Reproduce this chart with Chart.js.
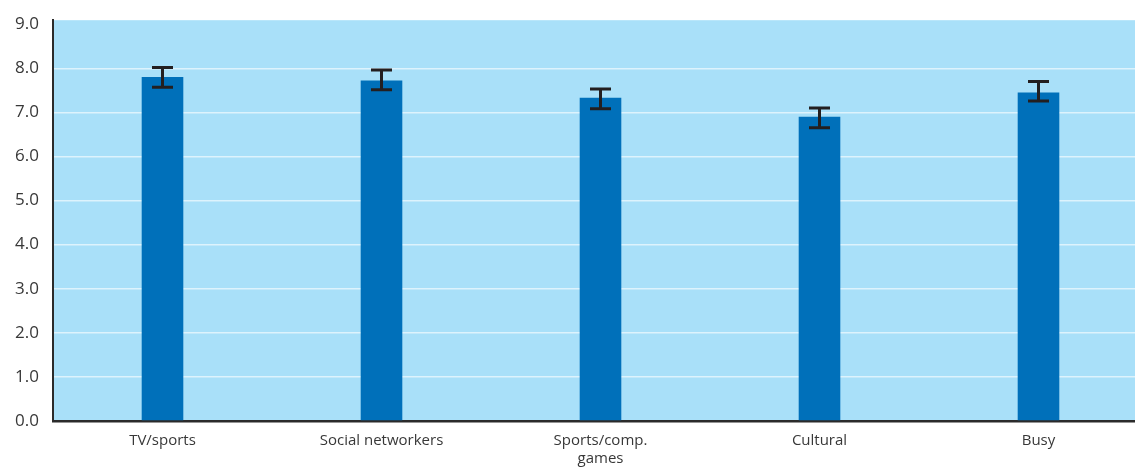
<!DOCTYPE html>
<html>
<head>
<meta charset="utf-8">
<script src="https://cdn.jsdelivr.net/npm/chart.js@4/dist/chart.umd.min.js"></script>
<style>
  html, body { margin: 0; padding: 0; background: #ffffff; overflow: hidden; }
  #wrap { position: relative; width: 1150px; height: 480px; margin-top: -4px; }
</style>
</head>
<body>
<div id="wrap"><canvas id="c" width="1150" height="480"></canvas></div>
<script>
// Mean score per group, with the lower and upper ends of each error bar
const categories = ['TV/sports', 'Social networkers', ['Sports/comp.', 'games'], 'Cultural', 'Busy'];
const meanScores = [7.80, 7.72, 7.33, 6.90, 7.45];
const errorLow   = [7.57, 7.51, 7.08, 6.65, 7.26];
const errorHigh  = [8.02, 7.96, 7.53, 7.10, 7.70];
const yTickValues = [0, 1, 2, 3, 4, 5, 6, 7, 8, 9];

const PLOT_BG = '#a9e0f9';
const BAR_BLUE = '#0070ba';
const INK = '#231f20';

// Light blue panel behind the bars
const panelBackground = {
  id: 'panelBackground',
  beforeDraw(chart) {
    const { ctx, chartArea: a } = chart;
    ctx.save();
    ctx.fillStyle = PLOT_BG;
    ctx.fillRect(a.left, a.top, a.right - a.left, a.bottom - a.top);
    ctx.restore();
  }
};

// Capped error bars drawn on top of each bar
const errorBars = {
  id: 'errorBars',
  afterDatasetsDraw(chart) {
    const { ctx } = chart;
    const y = chart.scales.y;
    const meta = chart.getDatasetMeta(0);
    ctx.save();
    ctx.strokeStyle = INK;
    ctx.lineWidth = 3;
    ctx.lineCap = 'butt';
    meta.data.forEach((bar, i) => {
      const x = bar.x;
      const yl = y.getPixelForValue(errorLow[i]);
      const yh = y.getPixelForValue(errorHigh[i]);
      const half = 10.5;
      ctx.beginPath();
      ctx.moveTo(x, yh); ctx.lineTo(x, yl);
      ctx.moveTo(x - half, yh); ctx.lineTo(x + half, yh);
      ctx.moveTo(x - half, yl); ctx.lineTo(x + half, yl);
      ctx.stroke();
    });
    ctx.restore();
  }
};

new Chart(document.getElementById('c'), {
  type: 'bar',
  data: {
    labels: categories,
    datasets: [{
      data: meanScores,
      backgroundColor: BAR_BLUE,
      borderWidth: 0,
      barPercentage: 0.19,
      categoryPercentage: 1.0
    }]
  },
  options: {
    responsive: false,
    animation: false,
    devicePixelRatio: 1,
    layout: { padding: { top: 16, right: 2, left: 0, bottom: 0 } },
    plugins: { legend: { display: false }, tooltip: { enabled: false } },
    scales: {
      x: {
        grid: { display: false, drawTicks: false },
        border: { display: true, color: '#2b2b2b', width: 2.5 },
        ticks: {
          color: '#383838',
          font: { family: 'Open Sans', size: 15, lineHeight: 1.2 },
          padding: 11,
          maxRotation: 0,
          autoSkip: false
        },
        afterFit(scale) { scale.height = 55; }
      },
      y: {
        min: 0,
        max: 9.09,
        afterBuildTicks(scale) {
          scale.ticks = yTickValues.map(v => ({ value: v }));
        },
        grid: {
          color: (c) => (c.tick && (c.tick.value === 0 || c.tick.value === 9)) ? 'rgba(0,0,0,0)' : 'rgba(230,246,254,0.85)',
          lineWidth: 1.5,
          drawTicks: false
        },
        border: { display: true, color: '#2b2b2b', width: 2 },
        ticks: {
          color: '#383838',
          font: { family: 'Open Sans', size: 17 },
          padding: 14,
          callback: (v) => Number(v).toFixed(1)
        },
        afterFit(scale) { scale.width = 53; }
      }
    }
  },
  plugins: [panelBackground, errorBars]
});
</script>
</body>
</html>
